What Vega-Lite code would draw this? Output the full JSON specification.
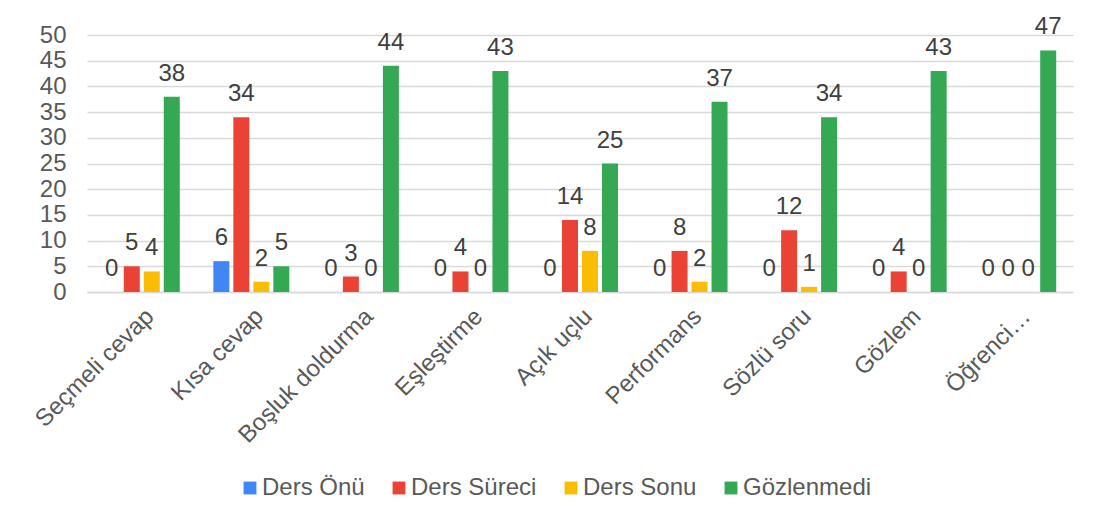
{
  "$schema": "https://vega.github.io/schema/vega-lite/v6.json",
  "width": 986,
  "height": 257,
  "autosize": {"type": "none"},
  "padding": {"left": 87, "top": 35, "right": 30, "bottom": 231},
  "background": "white",
  "config": {"view": {"stroke": null}, "font": "Liberation Sans"},
  "data": {
    "values": [
      {"cat": "Seçmeli cevap", "series": "Ders Önü", "value": 0},
      {"cat": "Seçmeli cevap", "series": "Ders Süreci", "value": 5},
      {"cat": "Seçmeli cevap", "series": "Ders Sonu", "value": 4},
      {"cat": "Seçmeli cevap", "series": "Gözlenmedi", "value": 38},
      {"cat": "Kısa cevap", "series": "Ders Önü", "value": 6},
      {"cat": "Kısa cevap", "series": "Ders Süreci", "value": 34},
      {"cat": "Kısa cevap", "series": "Ders Sonu", "value": 2},
      {"cat": "Kısa cevap", "series": "Gözlenmedi", "value": 5},
      {"cat": "Boşluk doldurma", "series": "Ders Önü", "value": 0},
      {"cat": "Boşluk doldurma", "series": "Ders Süreci", "value": 3},
      {"cat": "Boşluk doldurma", "series": "Ders Sonu", "value": 0},
      {"cat": "Boşluk doldurma", "series": "Gözlenmedi", "value": 44},
      {"cat": "Eşleştirme", "series": "Ders Önü", "value": 0},
      {"cat": "Eşleştirme", "series": "Ders Süreci", "value": 4},
      {"cat": "Eşleştirme", "series": "Ders Sonu", "value": 0},
      {"cat": "Eşleştirme", "series": "Gözlenmedi", "value": 43},
      {"cat": "Açık uçlu", "series": "Ders Önü", "value": 0},
      {"cat": "Açık uçlu", "series": "Ders Süreci", "value": 14},
      {"cat": "Açık uçlu", "series": "Ders Sonu", "value": 8},
      {"cat": "Açık uçlu", "series": "Gözlenmedi", "value": 25},
      {"cat": "Performans", "series": "Ders Önü", "value": 0},
      {"cat": "Performans", "series": "Ders Süreci", "value": 8},
      {"cat": "Performans", "series": "Ders Sonu", "value": 2},
      {"cat": "Performans", "series": "Gözlenmedi", "value": 37},
      {"cat": "Sözlü soru", "series": "Ders Önü", "value": 0},
      {"cat": "Sözlü soru", "series": "Ders Süreci", "value": 12},
      {"cat": "Sözlü soru", "series": "Ders Sonu", "value": 1},
      {"cat": "Sözlü soru", "series": "Gözlenmedi", "value": 34},
      {"cat": "Gözlem", "series": "Ders Önü", "value": 0},
      {"cat": "Gözlem", "series": "Ders Süreci", "value": 4},
      {"cat": "Gözlem", "series": "Ders Sonu", "value": 0},
      {"cat": "Gözlem", "series": "Gözlenmedi", "value": 43},
      {"cat": "Öğrenci…", "series": "Ders Önü", "value": 0},
      {"cat": "Öğrenci…", "series": "Ders Süreci", "value": 0},
      {"cat": "Öğrenci…", "series": "Ders Sonu", "value": 0},
      {"cat": "Öğrenci…", "series": "Gözlenmedi", "value": 47}
    ]
  },
  "encoding": {
    "x": {
      "field": "cat",
      "type": "nominal",
      "sort": null,
      "scale": {"paddingInner": 0.27, "paddingOuter": 0.135},
      "axis": {
        "title": null,
        "labelAngle": -45,
        "labelFontSize": 24,
        "labelColor": "#595959",
        "ticks": false,
        "domainColor": "#d9d9d9",
        "domainWidth": 1.5,
        "labelPadding": 12,
        "labelLimit": 400
      }
    },
    "xOffset": {
      "field": "series",
      "type": "nominal",
      "sort": ["Ders Önü", "Ders Süreci", "Ders Sonu", "Gözlenmedi"],
      "scale": {"paddingInner": 0.2, "paddingOuter": 0.1}
    },
    "y": {
      "field": "value",
      "type": "quantitative",
      "scale": {"domain": [0, 50]},
      "axis": {
        "title": null,
        "values": [0, 5, 10, 15, 20, 25, 30, 35, 40, 45, 50],
        "domain": false,
        "ticks": false,
        "gridColor": "#d9d9d9",
        "gridWidth": 1.5,
        "labelFontSize": 24,
        "labelColor": "#595959",
        "labelPadding": 21
      }
    }
  },
  "layer": [
    {
      "mark": {"type": "bar"},
      "encoding": {
        "color": {
          "field": "series",
          "type": "nominal",
          "scale": {
            "domain": ["Ders Önü", "Ders Süreci", "Ders Sonu", "Gözlenmedi"],
            "range": ["#4285F4", "#EA4335", "#FBBC04", "#34A853"]
          },
          "legend": {
            "orient": "none",
            "legendX": 151,
            "legendY": 441,
            "direction": "horizontal",
            "title": null,
            "symbolType": "square",
            "symbolSize": 165,
            "symbolStrokeWidth": 0,
            "labelFontSize": 24,
            "labelColor": "#595959",
            "columnPadding": 22,
            "labelOffset": 0
          }
        }
      }
    },
    {
      "mark": {"type": "text", "dy": -16, "baseline": "alphabetic", "fontSize": 24, "color": "#404040"},
      "encoding": {"text": {"field": "value", "type": "quantitative"}}
    }
  ]
}
